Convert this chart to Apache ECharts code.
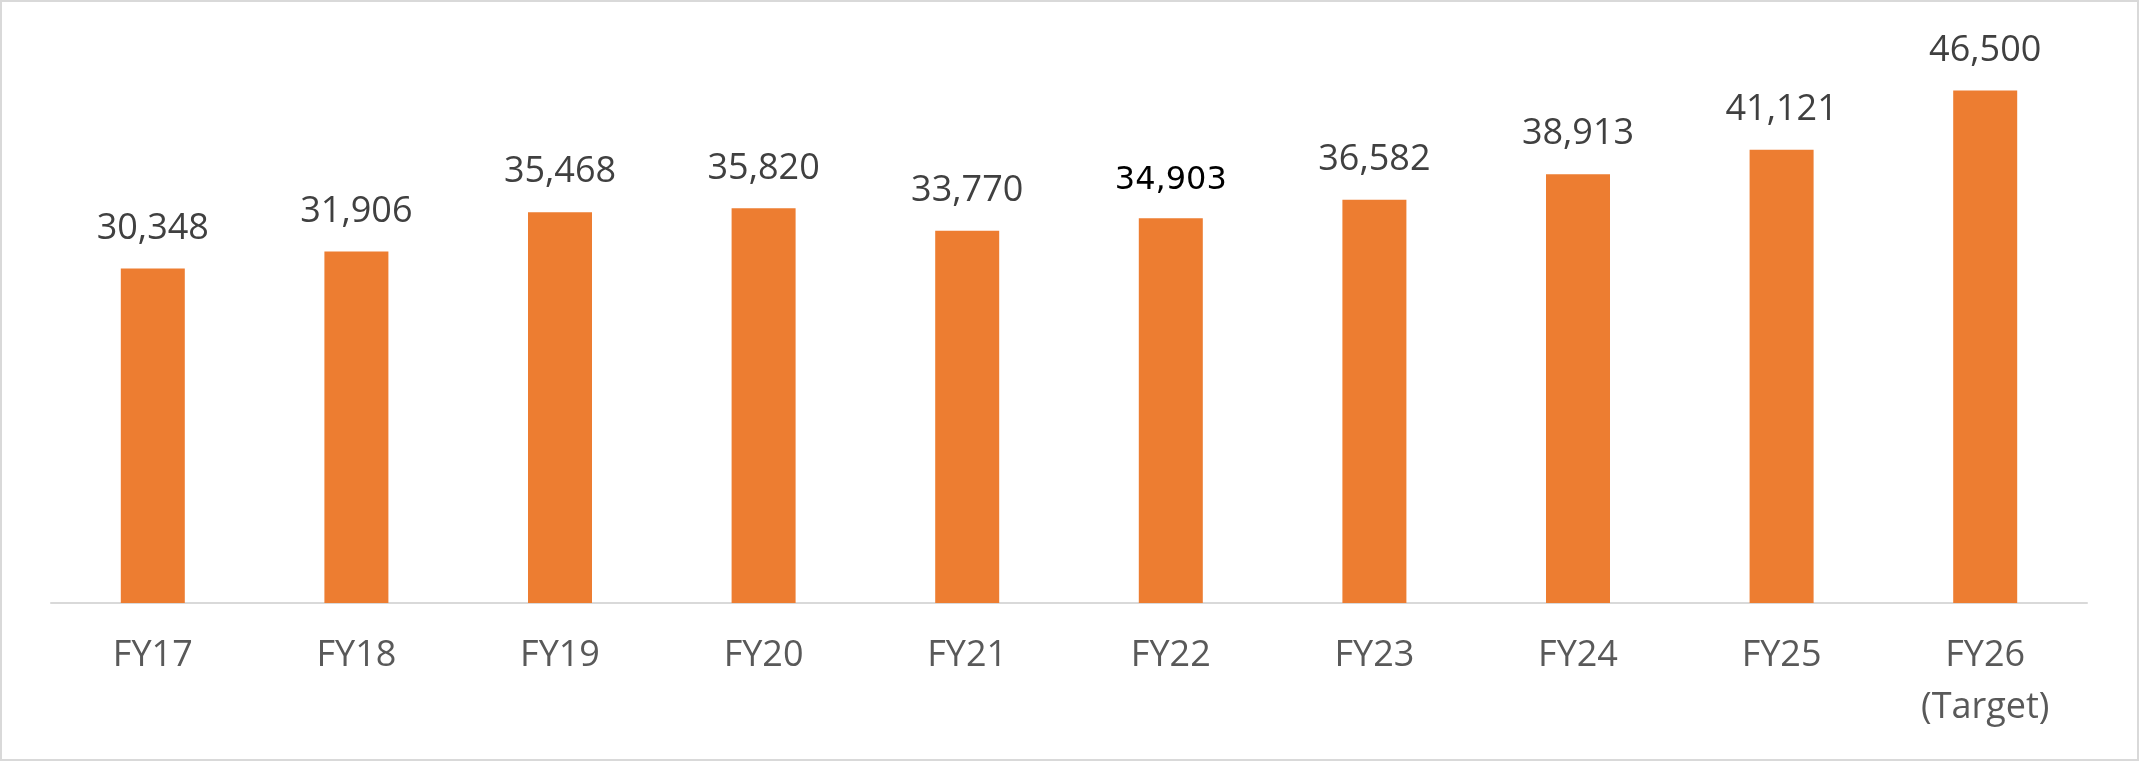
<!DOCTYPE html>
<html>
<head>
<meta charset="utf-8">
<script src="https://cdn.jsdelivr.net/npm/echarts@6/dist/echarts.min.js"></script>
<style>
  html, body { margin: 0; padding: 0; background: #fff; }
  #container { width: 2140px; height: 762px; }
</style>
</head>
<body>
<div id="container"></div>
<script>
var categories = ['FY17', 'FY18', 'FY19', 'FY20', 'FY21', 'FY22', 'FY23', 'FY24', 'FY25', 'FY26\n(Target)'];
var values = [30348, 31906, 35468, 35820, 33770, 34903, 36582, 38913, 41121, 46500];

var myChart = echarts.init(document.getElementById('container'));

// the FY22 label is drawn in a different font/colour in the original
var seriesData = [];
for (var i = 0; i < values.length; i++) {
  var item = { value: values[i] };
  if (categories[i] == 'FY22') {
    item.label = { color: '#000000', fontFamily: 'DejaVu Sans', fontSize: 32 };
  }
  seriesData.push(item);
}

var option = {
  backgroundColor: '#ffffff',
  animation: false,
  color: ['#ED7D31'],
  graphic: [{
    type: 'rect',
    shape: { x: 1, y: 1, width: 2137, height: 759 },
    style: { fill: 'none', stroke: '#d9d9d9', lineWidth: 2 },
    silent: true
  }],
  grid: {
    left: 51,
    right: 53,
    top: 52,
    bottom: 159,
    containLabel: false
  },
  xAxis: {
    type: 'category',
    data: categories,
    axisLine: { show: true, lineStyle: { color: '#d9d9d9', width: 2 } },
    axisTick: { show: false },
    axisLabel: {
      color: '#595959',
      fontFamily: 'Open Sans',
      fontSize: 36,
      lineHeight: 52,
      margin: 27,
      interval: 0
    }
  },
  yAxis: {
    type: 'value',
    min: 0,
    max: 50000,
    show: false,
    splitLine: { show: false }
  },
  series: [{
    type: 'bar',
    data: seriesData,
    barWidth: 64,
    label: {
      show: true,
      position: 'top',
      distance: 22,
      color: '#404040',
      fontFamily: 'Open Sans',
      fontSize: 36,
      formatter: function (p) {
        return p.value.toLocaleString('en-US');
      }
    }
  }]
};
myChart.setOption(option);
</script>
</body>
</html>
